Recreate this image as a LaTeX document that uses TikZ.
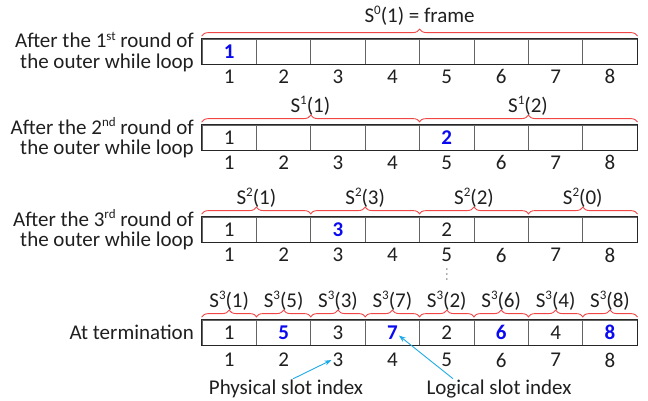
\documentclass[tikz,border=0pt]{standalone}
\usepackage{fontspec}
\setmainfont{Carlito}
\usetikzlibrary{decorations.pathreplacing,arrows.meta}
\definecolor{bracered}{RGB}{240,70,70}
\definecolor{arrblue}{RGB}{30,170,230}
\definecolor{numblue}{RGB}{10,10,240}
\definecolor{divgray}{RGB}{100,100,100}
\newcommand{\suprs}[1]{\raisebox{0.36em}{\fontsize{13}{13}\selectfont #1}}
\begin{document}
\begin{tikzpicture}[x=1pt,y=-1pt,
  every node/.style={font=\fontsize{21}{19}\selectfont, inner sep=0pt, text=black!88},
  cell/.style={draw=divgray, line width=0.8pt, minimum width=54.4pt, minimum height=25pt},
  nrm/.style={},
  hl/.style={text=numblue, font=\fontsize{21}{19}\selectfont\bfseries},
  brc/.style={draw=bracered, line width=0.9pt, decorate, decoration={brace, amplitude=7pt}},
  lbl/.style={align=right, anchor=east, font=\fontsize{21}{20.5}\selectfont},
  arr/.style={draw=arrblue, line width=0.9pt, -{Stealth[length=7pt,width=5pt]}}]
\useasboundingbox (0,0) rectangle (648,400);

% cells and index rows
\foreach \r/\yc/\yn in {1/51.5/76.5, 2/137.5/162.5, 3/229.5/255, 4/332.5/360} {
  \foreach \i in {1,...,8} {
    \node[cell] (c\r-\i) at ({174.8+54.4*\i}, \yc) {};
    \node (n\r-\i) at ({174.8+54.4*\i}, \yn) {\i};
  }
  \draw[line width=1.1pt, draw=black!85] (c\r-1.north west) rectangle (c\r-8.south east);
}

% cell contents
\node[hl] (v1-1) at (c1-1) {1};
\node (v2-1) at (c2-1) {1};
\node[hl] (v2-5) at (c2-5) {2};
\node (v3-1) at (c3-1) {1};
\node[hl] (v3-3) at (c3-3) {3};
\node (v3-5) at (c3-5) {2};
\foreach \i/\v/\st in {1/1/nrm,2/5/hl,3/3/nrm,4/7/hl,5/2/nrm,6/6/hl,7/4/nrm,8/8/hl}
  \node[\st] (v4-\i) at (c4-\i) {\v};

% left labels
\node[lbl] (l1) at (194,52) {After the 1\suprs{st} round of\\the outer while loop};
\node[lbl] (l2) at (194,138) {After the 2\suprs{nd} round of\\the outer while loop};
\node[lbl] (l3) at (194,230) {After the 3\suprs{rd} round of\\the outer while loop};
\node[lbl] (l4) at (194,332.5) {At termination};

% braces
\draw[brc] ([yshift=2.5pt]c1-1.north west) -- ([yshift=2.5pt]c1-8.north east);
\node (s01) at (419.6,16) {S\suprs{0}(1) = frame};

\draw[brc] ([yshift=2.5pt]c2-1.north west) -- ([yshift=2.5pt]c2-4.north east);
\draw[brc] ([yshift=2.5pt]c2-5.north west) -- ([yshift=2.5pt]c2-8.north east);
\node (s11) at (310.4,106) {S\suprs{1}(1)};
\node (s12) at (528.0,106) {S\suprs{1}(2)};

\foreach \a/\b/\x/\s in {1/2/256.4/1, 3/4/365.2/3, 5/6/474.0/2, 7/8/582.8/0} {
  \draw[brc] ([yshift=2.5pt]c3-\a.north west) -- ([yshift=2.5pt]c3-\b.north east);
  \node (s2-\a) at (\x,198) {S\suprs{2}(\s)};
}

\foreach \i/\s in {1/1,2/5,3/3,4/7,5/2,6/6,7/4,8/8} {
  \draw[brc] ([yshift=2.5pt]c4-\i.north west) -- ([yshift=2.5pt]c4-\i.north east);
  \node (s3-\i) at ({174.8+54.4*\i},301) {S\suprs{3}(\s)};
}

% vertical dots
\foreach \k in {0,1,2}
  \fill[black!70] ([yshift={-(14+5*\k)*1pt}]n3-5.center) circle (0.75pt);

% bottom labels and arrows
\node (phys) at (286,389) {Physical slot index};
\node (logi) at (499,389) {Logical slot index};
\draw[arr] ([xshift=7pt,yshift=1pt]phys.north) -- ([xshift=-1pt]n4-3.west);
\draw[arr] ([xshift=-46pt,yshift=1pt]logi.north) -- ([xshift=1pt,yshift=-3pt]v4-4.east);
\end{tikzpicture}
\end{document}
